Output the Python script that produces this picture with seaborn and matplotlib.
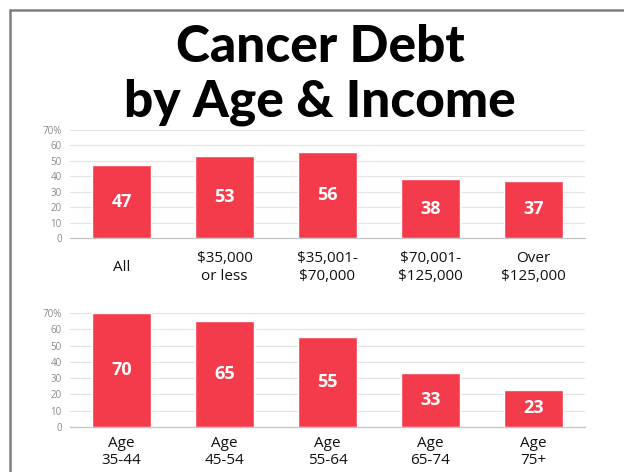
import matplotlib
matplotlib.use('Agg')
import matplotlib.pyplot as plt
from matplotlib.lines import Line2D
import seaborn as sns
import pandas as pd

# data
income_labels = ['All', '$35,000\nor less', '$35,001-\n$70,000', '$70,001-\n$125,000', 'Over\n$125,000']
income_values = [47, 53, 56, 38, 37]
age_labels = ['Age\n35-44', 'Age\n45-54', 'Age\n55-64', 'Age\n65-74', 'Age\n75+']
age_values = [70, 65, 55, 33, 23]
y_ticks = [0, 10, 20, 30, 40, 50, 60, 70]
y_tick_labels = ['0', '10', '20', '30', '40', '50', '60', '70%']

bar_color = '#F43B4C'

sns.set_style('white')
plt.rcParams['font.family'] = ['Open Sans', 'DejaVu Sans']

fig = plt.figure(figsize=(6.24, 4.72), dpi=100)
W, H = 624, 472


def draw_panel(rect, labels, values, pad):
    ax = fig.add_axes(rect)
    df = pd.DataFrame({'label': labels, 'value': values})
    sns.barplot(data=df, x='label', y='value', color=bar_color, width=0.58,
                saturation=1, ax=ax, zorder=3)
    ax.set_ylim(0, 70)
    ax.set_xlim(-0.5, len(labels) - 0.5)
    ax.set_yticks(y_ticks)
    ax.set_yticklabels(y_tick_labels, fontsize=7, color='#8a8a8a')
    ax.yaxis.grid(True, color='#e3e3e3', lw=0.8, zorder=0)
    ax.tick_params(axis='both', length=0)
    ax.tick_params(axis='y', pad=6)
    ax.tick_params(axis='x', pad=pad)
    for t in ax.get_xticklabels():
        t.set_fontsize(11)
        t.set_color('#111111')
        t.set_verticalalignment('center')
        t.set_linespacing(1.25)
    for s in ['top', 'right', 'left']:
        ax.spines[s].set_visible(False)
    ax.spines['bottom'].set_color('#c4c4c4')
    ax.spines['bottom'].set_linewidth(0.9)
    ax.set_xlabel('')
    ax.set_ylabel('')
    ax.bar_label(ax.containers[0], label_type='center', color='white',
                 fontsize=13, fontweight='bold')
    return ax


draw_panel([70 / W, (H - 238) / H, 515 / W, 108 / H], income_labels, income_values, 21)
draw_panel([70 / W, (H - 427) / H, 515 / W, 114 / H], age_labels, age_values, 18)

# title
fig.text(320 / W, (H - 47) / H, 'Cancer Debt', ha='center', va='center',
         fontsize=37, fontweight='black', family='Lato', color='black')
fig.text(320 / W, (H - 102) / H, 'by Age & Income', ha='center', va='center',
         fontsize=37, fontweight='black', family='Lato', color='black')

# frame lines (top and left)
fig.add_artist(Line2D([9.5 / W, 1], [(H - 10) / H, (H - 10) / H], color='#808080', lw=1.8))
fig.add_artist(Line2D([10 / W, 10 / W], [0, (H - 9.5) / H], color='#808080', lw=1.8))

fig.savefig('out.png', dpi=100)
